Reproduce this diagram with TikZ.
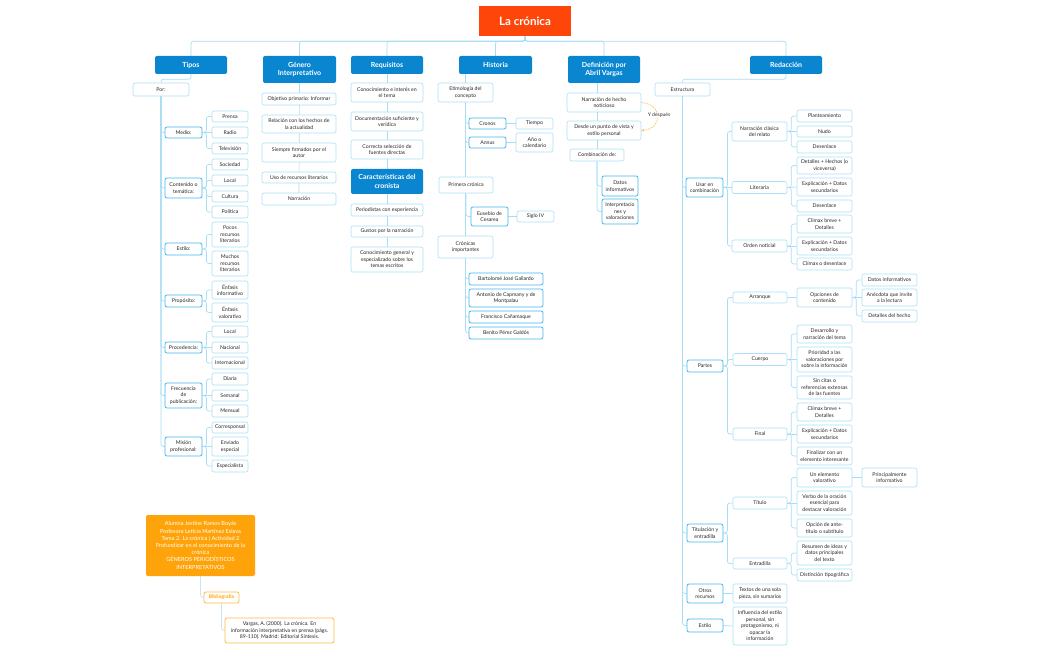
\documentclass[tikz,border=0pt]{standalone}
\usepackage{fontspec}
\setmainfont{Lato}
\usetikzlibrary{arrows.meta}
\definecolor{hdr}{RGB}{10,134,208}
\definecolor{leafc}{RGB}{172,222,246}
\definecolor{midc}{RGB}{70,182,238}
\definecolor{lnc}{RGB}{168,221,245}
\definecolor{txt}{RGB}{40,40,40}
\definecolor{titc}{RGB}{255,70,10}
\definecolor{org}{RGB}{255,163,10}
\definecolor{orgl}{RGB}{255,185,70}
\definecolor{lnb}{RGB}{205,228,238}
\pgfdeclarelayer{bg}\pgfsetlayers{bg,main}
\newcommand\mkbox[7]{%
\pgfmathsetmacro\mbw{#5-#3}%
\pgfmathsetmacro\mbh{#6-#4}%
\pgfmathsetmacro\mbx{(#3+#5)/2}%
\pgfmathsetmacro\mby{(#4+#6)/2}%
\node[#1,minimum width=\mbw pt,minimum height=\mbh pt] (#2) at (\mbx,\mby) {#7};}
\newcommand\ctr[2]{\draw[cn] (#1.east) -- ++(4,0) |- (#2.west);}
\newcommand\cst[2]{\draw[cn] (#1.east) -- (#2.west);}
\newcommand\csp[2]{\draw[cn] (#1.south) |- (#2.west);}
\tikzset{
 ttl/.style={fill=titc,draw=none,text=white,font=\bfseries\fontsize{11.5}{13}\selectfont,inner sep=1pt},
 hd/.style={fill=hdr,draw=none,rounded corners=2pt,text=white,font=\bfseries\fontsize{7}{8.3}\selectfont,align=center,inner sep=1pt},
 lf/.style={fill=white,draw=leafc,line width=0.6pt,rounded corners=2pt,text=txt,font=\fontsize{5.2}{6.5}\selectfont,align=center,inner sep=1pt},
 md/.style={lf,draw=midc,line width=0.8pt},
 cn/.style={draw=lnc,line width=0.7pt,rounded corners=2.5pt},
 ob/.style={fill=org,draw=none,rounded corners=2pt,text=white,font=\fontsize{5.6}{7.2}\selectfont,align=center,inner sep=1pt},
 bb/.style={fill=white,draw=orgl,line width=0.8pt,rounded corners=2pt,text=org,font=\bfseries\fontsize{5}{6}\selectfont,align=center,inner sep=1pt},
 rb/.style={fill=white,draw=orgl,line width=0.8pt,rounded corners=2pt,text=txt,font=\fontsize{5.2}{6.6}\selectfont,align=center,inner sep=1pt},
}
\begin{document}
\begin{tikzpicture}[x=1pt,y=-1pt]
\useasboundingbox (0,0) rectangle (1050,650);
\begin{pgfonlayer}{bg}
\fill[white] (0,0) rectangle (1050,650);
\end{pgfonlayer}
% title and headers
\mkbox{ttl}{title}{479}{6}{571}{36}{La crónica}
\mkbox{hd}{tipos}{155}{56}{227}{74}{Tipos}
\mkbox{hd}{gen}{263}{56}{336}{83}{Género\\Interpretativo}
\mkbox{hd}{req}{351}{56}{423}{74}{Requisitos}
\mkbox{hd}{his}{459}{56}{532}{74}{Historia}
\mkbox{hd}{def}{568}{56}{640}{83}{Definición por\\Abril Vargas}
\mkbox{hd}{red}{750}{56}{822}{74}{Redacción}
\mkbox{hd}{car}{351}{169}{423}{194}{Características del\\cronista}
% Tipos
\mkbox{lf}{por}{133}{83}{189}{96}{Por:}
\mkbox{md}{medio}{165}{127}{202}{138}{Medio:}
\mkbox{md}{cont}{165}{178}{202}{198}{Contenido o\\temática:}
\mkbox{md}{estilo}{165}{243}{202}{255}{Estilo:}
\mkbox{md}{prop}{165}{295}{202}{307}{Propósito:}
\mkbox{md}{proc}{165}{342}{202}{353}{Procedencia:}
\mkbox{md}{frec}{165}{383}{202}{408}{Frecuencia\\de\\publicación:}
\mkbox{md}{mis}{165}{437}{202}{456}{Misión\\profesional:}
\mkbox{lf}{prensa}{212}{111}{248}{122}{Prensa}
\mkbox{lf}{radio}{212}{127}{248}{138}{Radio}
\mkbox{lf}{tele}{212}{143}{248}{154}{Televisión}
\mkbox{lf}{soc}{212}{159}{248}{170}{Sociedad}
\mkbox{lf}{loca}{212}{175}{248}{186}{Local}
\mkbox{lf}{cul}{212}{191}{248}{202}{Cultura}
\mkbox{lf}{pol}{212}{206}{248}{218}{Política}
\mkbox{lf}{pocos}{212}{222}{248}{247}{Pocos\\recursos\\literarios}
\mkbox{lf}{muchos}{212}{251}{248}{276}{Muchos\\recursos\\literarios}
\mkbox{lf}{einf}{212}{281}{248}{299}{Énfasis\\informativo}
\mkbox{lf}{eval}{212}{303}{248}{322}{Énfasis\\valorativo}
\mkbox{lf}{locb}{212}{326}{248}{337}{Local}
\mkbox{lf}{nac}{212}{342}{248}{353}{Nacional}
\mkbox{lf}{intl}{212}{357}{248}{369}{Internacional}
\mkbox{lf}{dia}{212}{373}{248}{385}{Diaria}
\mkbox{lf}{sem}{212}{390}{248}{401}{Semanal}
\mkbox{lf}{men}{212}{405}{248}{417}{Mensual}
\mkbox{lf}{cor}{212}{422}{248}{433}{Corresponsal}
\mkbox{lf}{env}{212}{437}{248}{456}{Enviado\\especial}
\mkbox{lf}{esp}{212}{460}{248}{472}{Especialista}
% Genero
\mkbox{lf}{ga}{262}{93}{336}{105}{Objetivo primario: Informar}
\mkbox{lf}{gb}{262}{115}{336}{133}{Relación con los hechos de\\la actualidad}
\mkbox{lf}{gc}{262}{143}{336}{162}{Siempre firmados por el\\autor}
\mkbox{lf}{gd}{262}{172}{336}{183}{Uso de recursos literarios}
\mkbox{lf}{ge}{262}{193}{336}{205}{Narración}
% Requisitos
\mkbox{lf}{ra}{351}{83}{423}{102}{Conocimiento e interés en\\el tema}
\mkbox{lf}{rb}{351}{112}{423}{131}{Documentación suficiente y\\verídica}
\mkbox{lf}{rc}{351}{140}{423}{159}{Correcta selección de\\fuentes directas}
\mkbox{lf}{ca}{351}{204}{423}{216}{Periodistas con experiencia}
\mkbox{lf}{cb}{351}{226}{423}{237}{Gustos por la narración}
\mkbox{lf}{cc}{351}{247}{423}{272}{Conocimiento general y\\especializado sobre los\\temas escritos}
% Historia
\mkbox{lf}{eti}{438}{83}{493}{102}{Etimología del\\concepto}
\mkbox{md}{cro}{469}{118}{506}{129}{Cronos}
\mkbox{md}{ann}{469}{137}{506}{148}{Annus}
\mkbox{lf}{tie}{516}{118}{553}{129}{Tiempo}
\mkbox{lf}{ano}{516}{133}{553}{152}{Año o\\calendario}
\mkbox{lf}{pri}{439}{177}{493}{193}{Primera crónica}
\mkbox{md}{eus}{471}{207}{508}{226}{Eusebio de\\Cesarea}
\mkbox{lf}{sig}{517}{211}{554}{222}{Siglo IV}
\mkbox{lf}{croi}{438}{236}{493}{258}{Crónicas\\importantes}
\mkbox{md}{ha}{469}{273}{543}{285}{Bartolomé José Gallardo}
\mkbox{md}{hb}{469}{289}{543}{307}{Antonio de Capmany y de\\Montpalau}
\mkbox{md}{hc}{469}{311}{543}{323}{Francisco Cañamaque}
\mkbox{md}{hd}{469}{327}{543}{339}{Benito Pérez Galdós}
% Definicion
\mkbox{lf}{da}{567}{93}{641}{112}{Narración de hecho\\noticioso}
\mkbox{lf}{db}{567}{121}{641}{140}{Desde un punto de vista y\\estilo personal}
\mkbox{lf}{comb}{570}{149}{624}{161}{Combinación de:}
\mkbox{md}{dat}{602}{176}{638}{196}{Datos\\informativos}
\mkbox{md}{inter}{602}{199}{638}{224}{Interpretacio\\nes y\\valoraciones}
% Redaccion
\mkbox{lf}{estr}{655}{83}{710}{96}{Estructura}
\mkbox{md}{usar}{686}{178}{723}{197}{Usar en\\combinación}
\mkbox{lf}{nar}{732}{122}{787}{141}{Narración clásica\\del relato}
\mkbox{lf}{lit}{732}{181.5}{787}{193.5}{Literaria}
\mkbox{lf}{ord}{732}{240}{787}{252}{Orden noticial}
\mkbox{lf}{na}{797}{110}{852}{122}{Planteamiento}
\mkbox{lf}{nb}{797}{126}{852}{137}{Nudo}
\mkbox{lf}{nc}{797}{141}{852}{153}{Desenlace}
\mkbox{lf}{la}{797}{157}{852}{174}{Detalles + Hechos (o\\viceversa)}
\mkbox{lf}{lb}{797}{178}{852}{196}{Explicación + Datos\\secundarios}
\mkbox{lf}{lc}{797}{200}{852}{212}{Desenlace}
\mkbox{lf}{oa}{797}{215}{852}{233}{Clímax breve +\\Detalles}
\mkbox{lf}{ob}{797}{237}{852}{255}{Explicación + Datos\\secundarios}
\mkbox{lf}{oc}{797}{258}{852}{270}{Clímax o desenlace}
\mkbox{md}{partes}{687}{360}{723}{372}{Partes}
\mkbox{lf}{arr}{733}{292}{787}{303}{Arranque}
\mkbox{lf}{opc}{797}{288}{852}{307}{Opciones de\\contenido}
\mkbox{lf}{opa}{862}{274}{917}{286}{Datos informativos}
\mkbox{lf}{opb}{862}{289}{917}{306}{Anécdota que invite\\a la lectura}
\mkbox{lf}{opd}{862}{310}{917}{322}{Detalles del hecho}
\mkbox{lf}{cue}{733}{353.5}{787}{365.5}{Cuerpo}
\mkbox{lf}{cua}{797}{325}{852}{343}{Desarrollo y\\narración del tema}
\mkbox{lf}{cub}{797}{347}{852}{372}{Prioridad a las\\valoraciones por\\sobre la información}
\mkbox{lf}{cuc}{797}{376}{852}{399}{Sin citas o\\referencias extensas\\de las fuentes}
\mkbox{lf}{fin}{733}{428}{787}{440}{Final}
\mkbox{lf}{fa}{797}{403}{852}{421}{Clímax breve +\\Detalles}
\mkbox{lf}{fb}{797}{425}{852}{443}{Explicación + Datos\\secundarios}
\mkbox{lf}{fc}{797}{447}{852}{465}{Finalizar con un\\elemento interesante}
\mkbox{md}{titu}{687}{524}{723}{542}{Titulación y\\entradilla}
\mkbox{lf}{tit}{733}{497}{787}{509}{Título}
\mkbox{lf}{ta}{797}{468}{852}{487}{Un elemento\\valorativo}
\mkbox{lf}{taa}{862}{468}{917}{487}{Principalmente\\informativo}
\mkbox{lf}{tb}{797}{491}{852}{515}{Verbo de la oración\\esencial para\\destacar valoración}
\mkbox{lf}{tc}{797}{519}{852}{537}{Opción de ante-\\título o subtítulo}
\mkbox{lf}{ent}{733}{558}{787}{569}{Entradilla}
\mkbox{lf}{ea}{797}{541}{852}{565}{Resumen de ideas y\\datos principales\\del texto}
\mkbox{lf}{eb}{797}{569}{852}{581}{Distinción tipográfica}
\mkbox{md}{otr}{687}{584}{723}{603}{Otros\\recursos}
\mkbox{lf}{otra}{733}{584}{787}{603}{Textos de una sola\\pieza, sin sumarios}
\mkbox{md}{estb}{687}{619}{723}{632}{Estilo}
\mkbox{lf}{estba}{733}{607}{787}{645}{Influencia del estilo\\personal, sin\\protagonismo, ni\\opacar la\\información}
% bottom left
\mkbox{ob}{alum}{146}{515}{255}{576}{Alumna Jestine Ramos Boyás\\Profesora Leticia Martínez Eslava\\Tema 2. La crónica | Actividad 2\\Profundizar en el conocimiento de la\\crónica\\GÉNEROS PERIODÍSTICOS\\INTERPRETATIVOS}
\mkbox{bb}{bib}{204}{592}{239}{603}{Bibliografía}
\mkbox{rb}{ref}{225}{618}{334}{643}{Vargas, A. (2000). La crónica. En\\información interpretativa en prensa (págs.\\89-110). Madrid: Editorial Síntesis.}
% relationship
\draw[orgl,dashed,dash pattern=on 2pt off 1pt,line width=0.6pt,-{Stealth[length=3pt,width=2.6pt]}] (da.east) .. controls (663,104) and (663,129) .. (db.east);
\node[font=\fontsize{5}{6}\selectfont,text=txt,fill=white,inner sep=0.6pt] (yd) at (659,115.5) {Y después};
% connectors
\begin{pgfonlayer}{bg}
\draw[cn] (title.south) -- ++(0,5);
\foreach \h in {tipos,gen,req,his,def,red} {\draw[cn] (title.south) -- ++(0,5) -| (\h.north);}
\draw[cn] (tipos.south) -- ++(0,5) -| (por.north);
\foreach \c in {medio,cont,estilo,prop,proc,frec,mis} {\csp{por}{\c}}
\foreach \c in {prensa,tele} {\ctr{medio}{\c}}
\cst{medio}{radio}
\foreach \c in {soc,loca,cul,pol} {\ctr{cont}{\c}}
\foreach \c in {pocos,muchos} {\ctr{estilo}{\c}}
\foreach \c in {einf,eval} {\ctr{prop}{\c}}
\foreach \c in {locb,intl} {\ctr{proc}{\c}}
\cst{proc}{nac}
\foreach \c in {dia,men} {\ctr{frec}{\c}}
\cst{frec}{sem}
\foreach \c in {cor,esp} {\ctr{mis}{\c}}
\cst{mis}{env}
\draw[cn] (gen.south) -- (ge.north);
\draw[cn] (req.south) -- (cc.north);
\draw[cn] (eti.north |- his.south) -- (eti.south |- croi.north);
\csp{eti}{cro}\csp{eti}{ann}
\cst{cro}{tie}\cst{ann}{ano}
\csp{pri}{eus}\cst{eus}{sig}
\foreach \c in {ha,hb,hc,hd} {\csp{croi}{\c}}
\draw[cn] (comb.north |- def.south) -- (comb.north);
\csp{comb}{dat}\csp{comb}{inter}
\draw[cn] (red.south) -- ++(0,5) -| (estr.north);
\foreach \c in {usar,partes,titu,otr,estb} {\csp{estr}{\c}}
\ctr{usar}{nar}\cst{usar}{lit}\ctr{usar}{ord}
\ctr{nar}{na}\cst{nar}{nb}\ctr{nar}{nc}
\ctr{lit}{la}\cst{lit}{lb}\ctr{lit}{lc}
\ctr{ord}{oa}\cst{ord}{ob}\ctr{ord}{oc}
\foreach \c in {arr,cue,fin} {\ctr{partes}{\c}}
\cst{arr}{opc}
\ctr{opc}{opa}\cst{opc}{opb}\ctr{opc}{opd}
\ctr{cue}{cua}\cst{cue}{cub}\ctr{cue}{cuc}
\ctr{fin}{fa}\cst{fin}{fb}\ctr{fin}{fc}
\ctr{titu}{tit}\ctr{titu}{ent}
\ctr{tit}{ta}\cst{tit}{tb}\ctr{tit}{tc}
\cst{ta}{taa}
\ctr{ent}{ea}\ctr{ent}{eb}
\cst{otr}{otra}\cst{estb}{estba}
\draw[lnb,line width=0.7pt,rounded corners=2.5pt] (alum.south) |- (bib.west);
\draw[lnb,line width=0.7pt,rounded corners=2.5pt] (bib.south) |- (ref.west);
\end{pgfonlayer}
\end{tikzpicture}
\end{document}
